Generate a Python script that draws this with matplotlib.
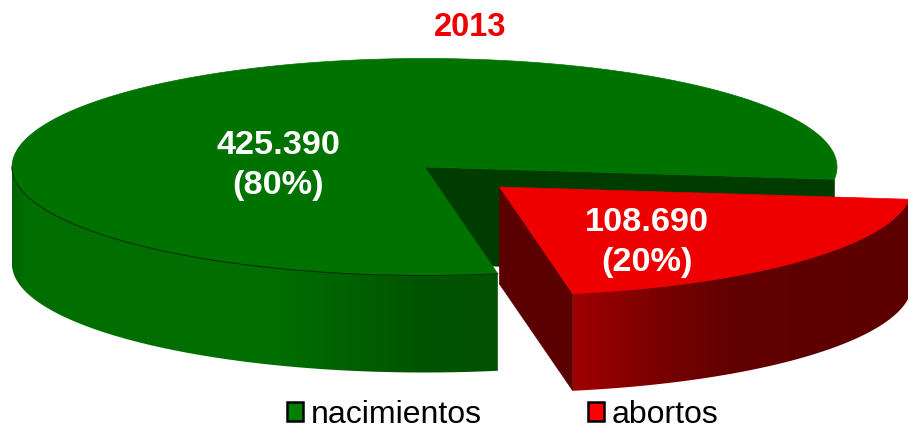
import numpy as np
import matplotlib
matplotlib.use("Agg")
import matplotlib.pyplot as plt
from matplotlib.patches import Patch, Polygon

title = "2013"
categories = ["nacimientos", "abortos"]
values = [425390, 108690]
slice_labels = ["425.390\n(80%)", "108.690\n(20%)"]

GREEN, RED = "#007200", "#ee0000"
plt.rcParams["font.family"] = ["Liberation Sans", "DejaVu Sans"]

fig = plt.figure(figsize=(9.08, 4.24), dpi=100)
ax = fig.add_axes([0, 0, 1, 1])
ax.set_xlim(0, 908)
ax.set_ylim(424, 0)
ax.axis("off")

RX, RY, DEPTH = 412.5, 108.5, 97
CG = np.array([424.5, 167.0])
CR = np.array([499.5, 187.0])
sweep = 360 * values[1] / sum(values)
RED_END = -6.5
RED_START = RED_END - sweep


def rim(c, t_deg):
    t = np.radians(np.atleast_1d(t_deg))
    return np.column_stack([c[0] + RX * np.cos(t), c[1] - RY * np.sin(t)])


def wall(c, t, stops, line, z):
    p = rim(c, t)
    poly = Polygon(np.vstack([p, p[::-1] + [0, DEPTH]]), fc="none", ec="none",
                   transform=ax.transData, zorder=z)
    ax.add_patch(poly)
    x0, x1 = p[:, 0].min(), p[:, 0].max()
    xs = np.linspace(x0, x1, 512)
    grad = np.column_stack([np.interp(xs, [s[0] for s in stops], [s[1][i] for s in stops])
                            for i in range(3)]) / 255
    y0, y1 = p[:, 1].min() - 2, p[:, 1].max() + DEPTH + 2
    im = ax.imshow(grad[None, :, :], extent=(x0, x1, y1, y0), aspect="auto",
                   interpolation="bilinear", zorder=z)
    im.set_clip_path(poly)
    ax.plot(p[:, 0], p[:, 1], color=line, lw=0.7, zorder=z + 0.5)


# green slice: back cut face, top, outer wall
tg = np.linspace(RED_END, RED_START + 360, 400)
pe = rim(CG, RED_END)[0]
ax.add_patch(Polygon([CG, pe, pe + [0, DEPTH], CG + [0, DEPTH]], fc="#003c00", ec="#003c00", lw=0.5, zorder=1))
ax.add_patch(Polygon(np.vstack([[CG], rim(CG, tg)]), fc=GREEN, ec=GREEN, lw=0.5, zorder=2))
wall(CG, np.linspace(180, RED_START + 360, 160),
     [(12, (0, 98, 0)), (24, (0, 110, 0)), (280, (0, 110, 0)), (420, (0, 84, 0)), (497, (0, 82, 0))],
     "#002a00", 3)

# red slice: cut face, top, outer wall
pr = rim(CR, RED_START)[0]
ax.add_patch(Polygon([CR, pr, pr + [0, DEPTH], CR + [0, DEPTH]], fc="#5a0000", ec="#5a0000", lw=0.5, zorder=5))
wall(CR, np.linspace(RED_START, RED_END, 120),
     [(572, (160, 0, 0)), (650, (125, 0, 0)), (730, (98, 0, 0)), (908, (92, 0, 0))],
     "#5a0000", 5)
ax.add_patch(Polygon(np.vstack([[CR], rim(CR, np.linspace(RED_START, RED_END, 120))]),
                     fc=RED, ec=RED, lw=0.5, zorder=7))

# texts
ax.text(470.5, 28, title, color=RED, fontsize=23.5, fontweight="bold", ha="center", va="center", zorder=10)
ax.text(278, 165.5, slice_labels[0], color="white", fontsize=24.7, fontweight="bold", ha="center",
        va="center", linespacing=1.36, zorder=10)
ax.text(647, 242.5, slice_labels[1], color="white", fontsize=24.7, fontweight="bold", ha="center",
        va="center", linespacing=1.36, zorder=10)

handles = [Patch(fc="#008000", ec="black", lw=1.8), Patch(fc="#ff0000", ec="black", lw=1.8)]
ax.legend(handles, categories, ncol=2, frameon=False, fontsize=23, loc="lower left",
          bbox_to_anchor=(287 / 908, -0.013), borderpad=0, borderaxespad=0,
          handlelength=0.5, handleheight=0.55, handletextpad=0.26, columnspacing=3.3, labelspacing=0)

fig.savefig("out.png", dpi=100, facecolor="white")
